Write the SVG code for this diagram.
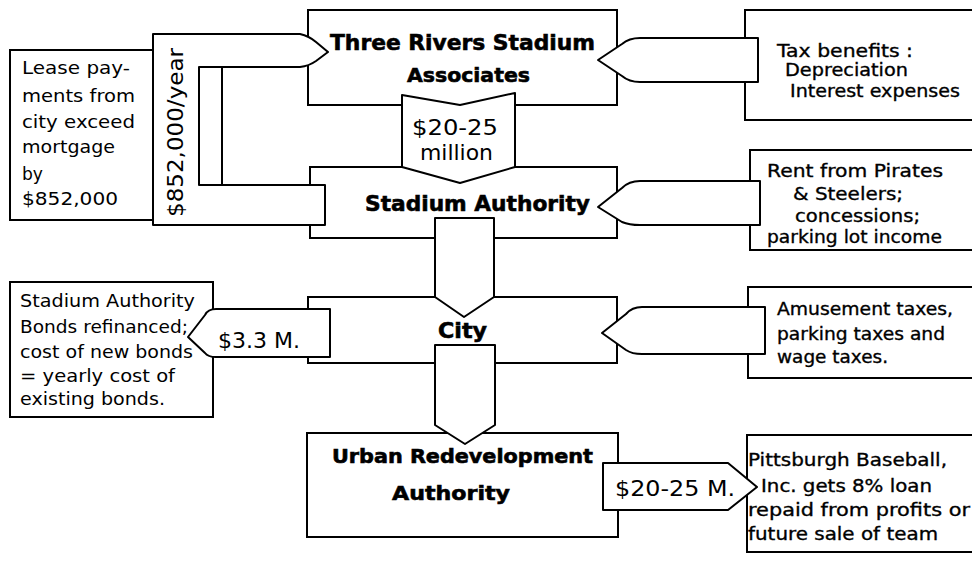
<svg xmlns="http://www.w3.org/2000/svg" width="972" height="562" viewBox="0 0 972 562">
<style>
.box{fill:#fff;stroke:#000;stroke-width:2}
.arr{fill:#fff;stroke:#000;stroke-width:2;stroke-linejoin:round}
.ln{fill:none;stroke:#000;stroke-width:2}
.t{font-family:"DejaVu Sans",sans-serif;font-size:18px;fill:#000}
.r{font-family:"DejaVu Sans",sans-serif;font-size:18px;fill:#000;stroke:#000;stroke-width:0.35}
.b{font-family:"DejaVu Sans",sans-serif;font-weight:bold;fill:#000;stroke:#000;stroke-width:0.6}
.m{font-family:"DejaVu Sans",sans-serif;font-size:22px;fill:#000}
</style>
<rect width="972" height="562" fill="#fff"/>

<g id="three-rivers">
<rect class="box" x="308" y="10" width="309" height="95"/>
<text class="b" x="330" y="50" font-size="22" textLength="265" lengthAdjust="spacingAndGlyphs">Three Rivers Stadium</text>
<text class="b" x="407" y="82" font-size="20" textLength="123" lengthAdjust="spacingAndGlyphs">Associates</text>
</g>

<g id="stadium-authority">
<rect class="box" x="310" y="167" width="307" height="71"/>
<text class="b" x="365" y="211" font-size="22" textLength="225" lengthAdjust="spacingAndGlyphs">Stadium Authority</text>
</g>

<g id="city">
<rect class="box" x="308" y="297" width="309" height="66"/>
<text class="b" x="438" y="338" font-size="22" textLength="49" lengthAdjust="spacingAndGlyphs">City</text>
</g>

<g id="ura">
<rect class="box" x="307" y="433" width="311" height="104"/>
<text class="b" x="332" y="463" font-size="19" textLength="261" lengthAdjust="spacingAndGlyphs">Urban Redevelopment</text>
<text class="b" x="392" y="500" font-size="20" textLength="118" lengthAdjust="spacingAndGlyphs">Authority</text>
</g>

<g id="lease">
<rect class="box" x="10" y="50" width="143" height="170"/>
<text class="t" x="22" y="74" textLength="108" lengthAdjust="spacingAndGlyphs">Lease pay-</text>
<text class="t" x="22" y="102" textLength="113" lengthAdjust="spacingAndGlyphs">ments from</text>
<text class="t" x="22" y="128" textLength="113" lengthAdjust="spacingAndGlyphs">city exceed</text>
<text class="t" x="22" y="153" font-size="19" textLength="93" lengthAdjust="spacingAndGlyphs">mortgage</text>
<text class="t" x="22" y="180" font-size="19" textLength="21" lengthAdjust="spacingAndGlyphs">by</text>
<text class="t" x="22" y="205" textLength="96" lengthAdjust="spacingAndGlyphs">$852,000</text>
</g>

<g id="bonds">
<rect class="box" x="10" y="282" width="203" height="135"/>
<text class="t" x="20" y="307" textLength="175" lengthAdjust="spacingAndGlyphs">Stadium Authority</text>
<text class="t" x="20" y="333" textLength="168" lengthAdjust="spacingAndGlyphs">Bonds refinanced;</text>
<text class="t" x="20" y="358" textLength="173" lengthAdjust="spacingAndGlyphs">cost of new bonds</text>
<text class="t" x="20" y="382" textLength="155" lengthAdjust="spacingAndGlyphs">= yearly cost of</text>
<text class="t" x="20" y="405" textLength="145" lengthAdjust="spacingAndGlyphs">existing bonds.</text>
</g>

<g id="tax">
<rect class="box" x="745" y="10" width="240" height="110"/>
<text class="r" x="777" y="57" textLength="136" lengthAdjust="spacingAndGlyphs">Tax benefits :</text>
<text class="r" x="785" y="76" textLength="123" lengthAdjust="spacingAndGlyphs">Depreciation</text>
<text class="r" x="790" y="97" textLength="170" lengthAdjust="spacingAndGlyphs">Interest expenses</text>
</g>

<g id="rent">
<rect class="box" x="750" y="150" width="240" height="100"/>
<text class="r" x="767" y="177" textLength="176" lengthAdjust="spacingAndGlyphs">Rent from Pirates</text>
<text class="r" x="793" y="200" textLength="110" lengthAdjust="spacingAndGlyphs">&amp; Steelers;</text>
<text class="r" x="795" y="222" textLength="125" lengthAdjust="spacingAndGlyphs">concessions;</text>
<text class="r" x="767" y="243" textLength="175" lengthAdjust="spacingAndGlyphs">parking lot income</text>
</g>

<g id="amusement">
<rect class="box" x="748" y="287" width="240" height="91"/>
<text class="r" x="777" y="315" textLength="176" lengthAdjust="spacingAndGlyphs">Amusement taxes,</text>
<text class="r" x="777" y="340" textLength="168" lengthAdjust="spacingAndGlyphs">parking taxes and</text>
<text class="r" x="777" y="363" textLength="111" lengthAdjust="spacingAndGlyphs">wage taxes.</text>
</g>

<g id="pittsburgh">
<rect class="box" x="747" y="435" width="240" height="117"/>
<text class="r" x="748" y="466" textLength="199" lengthAdjust="spacingAndGlyphs">Pittsburgh Baseball,</text>
<text class="r" x="761" y="492" textLength="171" lengthAdjust="spacingAndGlyphs">Inc. gets 8% loan</text>
<text class="r" x="748" y="516" textLength="222" lengthAdjust="spacingAndGlyphs">repaid from profits or</text>
<text class="r" x="748" y="540" textLength="190" lengthAdjust="spacingAndGlyphs">future sale of team</text>
</g>

<g id="connectors">
<!-- lease payments U-arrow -->
<path class="arr" d="M153,34 L300,34 Q309,36 316,42 L328,52 L316,61 Q309,66 300,67 L199,67 L199,185 L325,185 L325,225 L153,225 Z"/>
<line class="ln" x1="222" y1="67" x2="222" y2="185"/>
<text class="m" transform="translate(183,217) rotate(-90)" textLength="169" lengthAdjust="spacingAndGlyphs">$852,000/year</text>

<!-- $20-25 million down chevron -->
<path class="arr" d="M402,95 L460,105 L515,93 L515,167 L460,183 L402,167 Z"/>
<text class="m" x="412" y="135" textLength="86" lengthAdjust="spacingAndGlyphs">$20-25</text>
<text class="m" x="420" y="160" font-size="21" textLength="73" lengthAdjust="spacingAndGlyphs">million</text>

<!-- Stadium Authority to City -->
<path class="arr" d="M435,218 L494,218 L494,297 L464,317 L435,297 Z"/>
<!-- City to URA -->
<path class="arr" d="M435,345 L495,345 L495,425 L465,444 L435,425 Z"/>

<!-- Tax benefits arrow -->
<path class="arr" d="M598,60 L622,44 Q629,38 640,38 L758,38 L758,82 L640,82 Q629,82 622,76 Z"/>
<!-- Rent arrow -->
<path class="arr" d="M598,207 L622,188 Q629,181 640,181 L760,181 L760,225 L640,225 Q629,225 622,222 Z"/>
<!-- Amusement arrow -->
<path class="arr" d="M602,333 L626,314 Q632,307 642,307 L765,307 L765,354 L642,354 Q632,354 626,350 Z"/>

<!-- $3.3 M. arrow -->
<path class="arr" d="M188,337 L205,315 Q208,309 216,309 L330,309 L330,357 L216,357 Q208,357 205,353 Z"/>
<text class="m" x="218" y="348" textLength="82" lengthAdjust="spacingAndGlyphs">$3.3 M.</text>

<!-- $20-25 M. arrow -->
<path class="arr" d="M603,463 L728,463 L757,487 L728,510 L603,510 Z"/>
<text class="m" x="615" y="496" textLength="120" lengthAdjust="spacingAndGlyphs">$20-25 M.</text>
</g>
</svg>
